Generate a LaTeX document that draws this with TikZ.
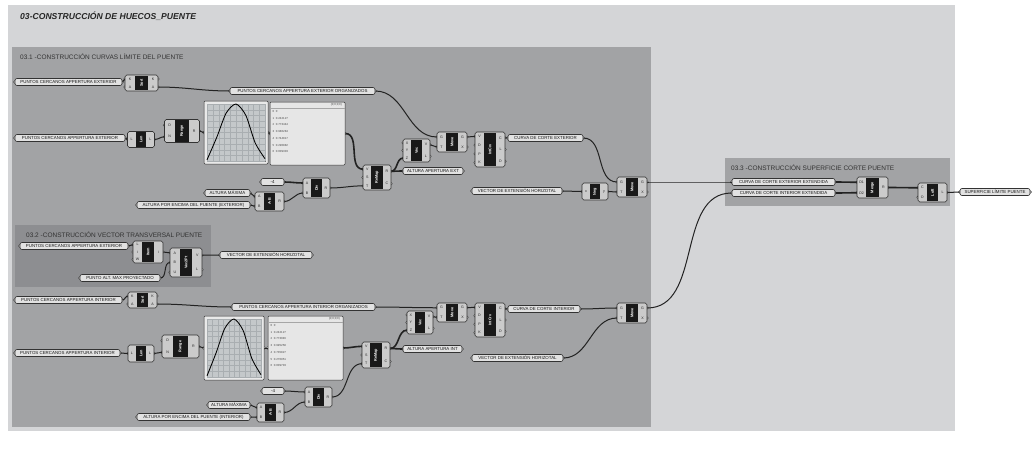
\documentclass[tikz,border=0pt]{standalone}
\usepackage{graphicx}
\usepackage{fontspec}
\setmainfont{Liberation Sans}
\pgfdeclarelayer{grp}
\pgfdeclarelayer{wires}
\pgfsetlayers{grp,wires,main}
\definecolor{outerg}{HTML}{D4D5D7}
\definecolor{gone}{HTML}{A2A3A5}
\definecolor{gtwo}{HTML}{8D8E91}
\definecolor{compf}{HTML}{CBCBCB}
\definecolor{panf}{HTML}{E2E2E2}
\definecolor{lstf}{HTML}{E6E6E6}
\definecolor{gmf}{HTML}{E9E9E9}
\definecolor{gmin}{HTML}{C4C8CA}
\definecolor{gridc}{HTML}{A9AEB1}
\definecolor{wirec}{HTML}{222222}
\definecolor{edgec}{HTML}{333333}
\tikzset{
 comp/.style={draw=edgec, fill=compf, line width=0.55pt, rounded corners=1.8pt, inner sep=0pt},
 body/.style={fill=black!90, inner sep=0pt, text=white, font=\fontsize{3.8}{4}\selectfont\bfseries},
 port/.style={inner sep=0pt, font=\fontsize{3.6}{4}\selectfont, text=black!85},
 nub/.style={draw=edgec, fill=compf, line width=0.4pt},
 panel/.style={draw=edgec, fill=panf, line width=0.6pt, rounded corners=2pt, minimum height=7pt, inner sep=0.8pt, font=\fontsize{4.4}{5}\selectfont, text=black!90},
 wire/.style={draw=wirec, line width=1pt},
 fatwire/.style={draw=wirec, line width=1.6pt},
 gtitle/.style={anchor=west, inner sep=0pt, font=\fontsize{6.5}{7}\selectfont, text=black!80},
 small/.style={inner sep=0pt, font=\fontsize{2.9}{3}\selectfont, text=black!70},
}
% component: name, cx, cy, w, h, label, inputs, outputs
\newcommand{\ghc}[8]{%
  \foreach \lab [count=\cnt] in {#7} {\xdef\ghni{\cnt}}%
  \foreach \lab [count=\cnt] in {#8} {\xdef\ghno{\cnt}}%
  \node[comp, minimum width=#4pt, minimum height=#5pt] (#1) at (#2,#3) {};
  \node[body, minimum width={#4*0.4pt}, minimum height={(#5-1.4)*1pt}] (#1-b) at (#2,#3) {\rotatebox{90}{#6}};
  \foreach \lab [count=\cnt] in {#7} {%
    \pgfmathsetmacro\yy{#3-#5/2+(\cnt-0.5)*#5/\ghni}%
    \pgfmathsetmacro\xx{#2-#4/2}%
    \pgfmathsetmacro\xl{#2-#4/2+#4*0.15}%
    \coordinate (#1-i\cnt) at (\xx,\yy);
    \node[port] (#1-il\cnt) at (\xl,\yy) {\lab};
    \begin{pgfonlayer}{wires}\draw[nub] (\xx,\yy) circle (1.3pt);\end{pgfonlayer}
  }%
  \foreach \lab [count=\cnt] in {#8} {%
    \pgfmathsetmacro\yy{#3-#5/2+(\cnt-0.5)*#5/\ghno}%
    \pgfmathsetmacro\xx{#2+#4/2}%
    \pgfmathsetmacro\xl{#2+#4/2-#4*0.15}%
    \coordinate (#1-o\cnt) at (\xx,\yy);
    \node[port] (#1-ol\cnt) at (\xl,\yy) {\lab};
    \begin{pgfonlayer}{wires}\draw[nub] (\xx,\yy) circle (1.3pt);\end{pgfonlayer}
  }%
}
% panel: name, cx, cy, w, text
\newcommand{\ghp}[5]{%
  \node[panel, minimum width=#4pt] (#1) at (#2,#3) {#5};
  \begin{pgfonlayer}{wires}\draw[nub, fill=panf] (#1.west) circle (1.3pt) (#1.east) circle (1.3pt);\end{pgfonlayer}
}
% graph mapper: name, cx, cy, w, h
\newcommand{\ghgm}[5]{%
  \node[draw=edgec, fill=gmf, line width=0.5pt, minimum width=#4pt, minimum height=#5pt, inner sep=0pt, rounded corners=1pt] (#1) at (#2,#3) {};
  \node[fill=gmin, draw=black!55, line width=0.3pt, minimum width={(#4-6)*1pt}, minimum height={(#5-6)*1pt}, inner sep=0pt] (#1-in) at (#2,#3) {};
  \begin{pgfonlayer}{wires}\draw[nub, fill=gmf] (#1.west) circle (1.3pt) (#1.east) circle (1.3pt);\end{pgfonlayer}
  \pgfmathsetmacro\gx{#2-#4/2+3}%
  \pgfmathsetmacro\gy{#3+#5/2-3}%
  \pgfmathsetmacro\gw{#4-6}%
  \pgfmathsetmacro\gh{#5-6}%
  \begin{scope}[shift={(\gx,\gy)}, x=\gw pt, y=\gh pt]
    \draw[gridc, line width=0.2pt] (0,0) grid[xstep=0.1, ystep=0.1] (1,1);
    \draw[black, line width=0.85pt, line join=round] plot[smooth, tension=0.45] coordinates {(0,0.02) (0.17,0.42) (0.33,0.84) (0.5,1) (0.67,0.8) (0.83,0.32) (1,0.04)};
  \end{scope}
}
% list panel: name, cx, cy, w, h, entries
\newcommand{\ghlist}[6]{%
  \node[draw=edgec, fill=lstf, line width=0.5pt, minimum width=#4pt, minimum height=#5pt, inner sep=0pt, rounded corners=1pt] (#1) at (#2,#3) {};
  \begin{pgfonlayer}{wires}\draw[nub, fill=lstf] (#1.west) circle (1.3pt) (#1.east) circle (1.3pt);\end{pgfonlayer}
  \draw[black!35, line width=0.3pt] (#2-#4/2, #3-#5/2+6) -- (#2+#4/2, #3-#5/2+6);
  \node[small, anchor=east] (#1-h) at (#2+#4/2-3, #3-#5/2+3) {\{0;0;0;0\}};
  \foreach \ix/\vl [count=\cnt] in {#6} {%
    \pgfmathsetmacro\ey{#3-#5/2+9.5+(\cnt-1)*6.7}%
    \node[small, anchor=west] (#1-e\cnt) at (#2-#4/2+2.5,\ey) {\ix\hspace{1.6pt}\vl};
  }%
}
\begin{document}
\begin{tikzpicture}[x=1pt, y=-1pt]
\useasboundingbox (0,0) rectangle (1035,456);
\begin{pgfonlayer}{grp}
  \fill[white] (0,0) rectangle (1035,456);
  \fill[outerg] (8,5) rectangle (955,431);
  \fill[gone] (12,47) rectangle (651,427);
  \fill[gtwo] (15,225) rectangle (211,287);
  \fill[gone] (725,158) rectangle (950,206);
\end{pgfonlayer}
\node[anchor=west, inner sep=0pt, font=\fontsize{8.6}{9}\selectfont\bfseries\itshape, text=black!85] (title) at (20,16) {03-CONSTRUCCIÓN DE HUECOS\_PUENTE};
\node[gtitle] (t31) at (20,57) {03.1 -CONSTRUCCIÓN CURVAS LÍMITE DEL PUENTE};
\node[gtitle] (t32) at (26,235) {03.2 -CONSTRUCCIÓN VECTOR TRANSVERSAL PUENTE};
\node[gtitle] (t33) at (731,168) {03.3 -CONSTRUCCIÓN SUPERFICIE CORTE PUENTE};

% ---------- 03.1 exterior ----------
\ghc{sortE}{141.5}{83}{33}{16}{Sort}{K,A}{K,A}
\ghc{lenE}{141}{139.5}{27}{16}{Len}{L}{L}
\ghc{rangeE}{182}{131}{35}{23}{Range}{D,N}{R}
\ghc{divE}{316.5}{188}{27}{20}{Div}{A,B}{R}
\ghc{abE}{269.5}{201.5}{29}{19}{A-B}{A,B}{R}
\ghc{rmE}{377}{177.5}{28}{25}{ReMap}{V,S,T}{R,C}
\ghc{vecE}{416.5}{150.5}{27}{23}{Vec}{X,Y,Z}{V,L}
\ghc{moveE}{452}{142}{30}{20}{Move}{G,T}{G,X}
\ghc{icE}{490}{149.5}{30}{35}{IntCrv}{V,D,P,K}{C,L,D}
\ghc{negE}{595}{191.5}{26}{17}{Neg}{x}{y}
\ghc{moveXE}{632}{187}{30}{20}{Move}{G,T}{G,X}
\ghgm{gmE}{236}{132.5}{64}{63}
\ghlist{lstE}{307.5}{133.5}{75}{63}{0/0, 1/0.242127, 2/0.773444, 3/0.986284, 4/0.744817, 5/0.290882, 6/0.009303}
\ghp{pEa}{68.5}{82}{107}{PUNTOS CERCANOS APPERTURA EXTERIOR}
\ghp{pEo}{302.5}{91}{145}{PUNTOS CERCANOS APPERTURA EXTERIOR ORGANIZADOS}
\ghp{pEb}{70}{138}{110}{PUNTOS CERCANOS APPERTURA EXTERIOR}
\ghp{nfE}{272.5}{182}{23}{-4}
\ghp{altmaxE}{227.5}{193}{45}{ALTURA MÁXIMA}
\ghp{altE}{193.5}{205}{113}{ALTURA POR ENCIMA DEL PUENTE (EXTERIOR)}
\ghp{altapE}{433}{171}{60}{ALTURA APERTURA EXT}
\ghp{curvE}{545.5}{138}{75}{CURVA DE CORTE EXTERIOR}
\ghp{vecHE}{517}{191}{90}{VECTOR DE EXTENSIÓN HORIZOTAL}

% ---------- 03.3 ----------
\ghc{mergeC}{872.5}{187.5}{31}{21}{Merge}{D1,D2}{R}
\ghc{loftC}{932.5}{192.5}{29}{19}{Loft}{C,O}{L}
\ghp{ceE}{783.5}{182}{103}{CURVA DE CORTE EXTERIOR EXTENDIDA}
\ghp{ciE}{783.5}{193}{103}{CURVA DE CORTE INTERIOR EXTENDIDA}
\ghp{supP}{995}{192}{70}{SUPERFICIE LÍMITE PUENTE}

% ---------- 03.2 ----------
\ghc{itemC}{148}{252}{30}{22}{Item}{L,i,W}{i}
\ghc{vtp}{186}{262.5}{32}{29}{Vec2Pt}{A,B,U}{V,L}
\ghp{pta}{74}{246}{108}{PUNTOS CERCANOS APPERTURA EXTERIOR}
\ghp{ptb}{120}{278}{80}{PUNTO ALT. MAX PROYECTADO}
\ghp{ptc}{266}{255}{92}{VECTOR DE EXTENSIÓN HORIZOTAL}

% ---------- interior ----------
\ghc{sortI}{142.5}{300}{29}{16}{Sort}{K,A}{K,A}
\ghc{lenI}{141}{353.5}{26}{17}{Len}{L}{L}
\ghc{rangeI}{180.5}{346.5}{37}{23}{Range}{D,N}{R}
\ghc{divI}{318.5}{397}{27}{20}{Div}{A,B}{R}
\ghc{abI}{270.5}{412.5}{27}{19}{A-B}{A,B}{R}
\ghc{rmI}{376}{355}{28}{26}{ReMap}{V,S,T}{R,C}
\ghc{vecI}{420}{322.5}{26}{23}{Vec}{X,Y,Z}{V,L}
\ghc{moveI}{452}{312.5}{30}{19}{Move}{G,T}{G,X}
\ghc{icI}{490}{320}{30}{34}{IntCrv}{V,D,P,K}{C,L,D}
\ghc{moveXI}{632}{313}{30}{20}{Move}{G,T}{G,X}
\ghgm{gmI}{234}{348}{60}{64}
\ghlist{lstI}{305.5}{348}{75}{64}{0/0, 1/0.242127, 2/0.773046, 3/0.995258, 4/0.735827, 5/0.270951, 6/0.009703}
\ghp{pIa}{68.5}{300}{107}{PUNTOS CERCANOS APPERTURA INTERIOR}
\ghp{pIo}{303.5}{307}{143}{PUNTOS CERCANOS APPERTURA INTERIOR ORGANIZADOS}
\ghp{pIb}{67.5}{353}{105}{PUNTOS CERCANOS APPERTURA INTERIOR}
\ghp{nfI}{273}{391}{22}{-4}
\ghp{altmaxI}{229}{405}{42}{ALTURA MÁXIMA}
\ghp{altI}{193.5}{417}{113}{ALTURA POR ENCIMA DEL PUENTE (INTERIOR)}
\ghp{altapI}{432.5}{349}{59}{ALTURA APERTURA INT}
\ghp{curvI}{544}{309}{72}{CURVA DE CORTE INTERIOR}
\ghp{vecHI}{517.5}{358}{91}{VECTOR DE EXTENSIÓN HORIZOTAL}

% ---------- wires ----------
\begin{pgfonlayer}{wires}
 \draw[wire] (pEa.east) to[out=0,in=180] (sortE-i1);
 \draw[wire] (sortE-o2) to[out=0,in=180] (pEo.west);
 \draw[wire] (pEo.east) to[out=0,in=180] (moveE-i1);
 \draw[wire] (pEb.east) to[out=0,in=180] (lenE-i1);
 \draw[wire] (lenE-o1) to[out=0,in=180] (rangeE-i2);
 \draw[wire] (rangeE-o1) to[out=0,in=180] (gmE.west);
 \draw[wire] (gmE.east) to[out=0,in=180] (lstE.west);
 \draw[fatwire] (lstE.east) to[out=0,in=180] (rmE-i1);
 \draw[fatwire] (nfE.east) to[out=0,in=180] (divE-i1);
 \draw[wire] (altmaxE.east) to[out=0,in=180] (abE-i1);
 \draw[wire] (altE.east) to[out=0,in=180] (abE-i2);
 \draw[wire] (abE-o1) to[out=0,in=180] (divE-i2);
 \draw[wire] (divE-o1) to[out=0,in=180] (rmE-i3);
 \draw[fatwire] (rmE-o1) to[out=0,in=180] (vecE-i3);
 \draw[fatwire] (rmE-o1) to[out=0,in=180] (altapE.west);
 \draw[wire] (vecE-o1) to[out=0,in=180] (moveE-i2);
 \draw[wire] (moveE-o1) to[out=0,in=180] (icE-i1);
 \draw[wire] (icE-o1) to[out=0,in=180] (curvE.west);
 \draw[wire] (curvE.east) to[out=0,in=180] (moveXE-i1);
 \draw[wire] (vecHE.east) to[out=0,in=180] (negE-i1);
 \draw[wire] (negE-o1) to[out=0,in=180] (moveXE-i2);
 \draw[wire] (moveXE-o1) to[out=0,in=180] (ceE.west);
 \draw[fatwire] (ceE.east) to[out=0,in=180] (mergeC-i1);
 \draw[fatwire] (ciE.east) to[out=0,in=180] (mergeC-i2);
 \draw[fatwire] (mergeC-o1) to[out=0,in=180] (loftC-i1);
 \draw[wire] (loftC-o1) to[out=0,in=180] (supP.west);
 \draw[wire] (pta.east) to[out=0,in=180] (itemC-i1);
 \draw[wire] (itemC-o1) to[out=0,in=180] (vtp-i1);
 \draw[wire] (ptb.east) to[out=0,in=180] (vtp-i2);
 \draw[wire] (vtp-o1) to[out=0,in=180] (ptc.west);
 \draw[wire] (pIa.east) to[out=0,in=180] (sortI-i1);
 \draw[wire] (sortI-o2) to[out=0,in=180] (pIo.west);
 \draw[wire] (pIo.east) to[out=0,in=180] (moveI-i1);
 \draw[wire] (pIb.east) to[out=0,in=180] (lenI-i1);
 \draw[wire] (lenI-o1) to[out=0,in=180] (rangeI-i2);
 \draw[wire] (rangeI-o1) to[out=0,in=180] (gmI.west);
 \draw[wire] (gmI.east) to[out=0,in=180] (lstI.west);
 \draw[fatwire] (lstI.east) to[out=0,in=180] (rmI-i1);
 \draw[wire] (nfI.east) to[out=0,in=180] (divI-i1);
 \draw[wire] (altmaxI.east) to[out=0,in=180] (abI-i1);
 \draw[wire] (altI.east) to[out=0,in=180] (abI-i2);
 \draw[wire] (abI-o1) to[out=0,in=180] (divI-i2);
 \draw[wire] (divI-o1) to[out=0,in=180] (rmI-i3);
 \draw[fatwire] (rmI-o1) to[out=0,in=180] (vecI-i3);
 \draw[fatwire] (rmI-o1) to[out=0,in=180] (altapI.west);
 \draw[wire] (vecI-o1) to[out=0,in=180] (moveI-i2);
 \draw[wire] (moveI-o1) to[out=0,in=180] (icI-i1);
 \draw[wire] (icI-o1) to[out=0,in=180] (curvI.west);
 \draw[wire] (curvI.east) to[out=0,in=180] (moveXI-i1);
 \draw[wire] (vecHI.east) to[out=0,in=180] (moveXI-i2);
 \draw[wire] (moveXI-o1) to[out=0,in=180] (ciE.west);
\end{pgfonlayer}
\end{tikzpicture}
\end{document}
